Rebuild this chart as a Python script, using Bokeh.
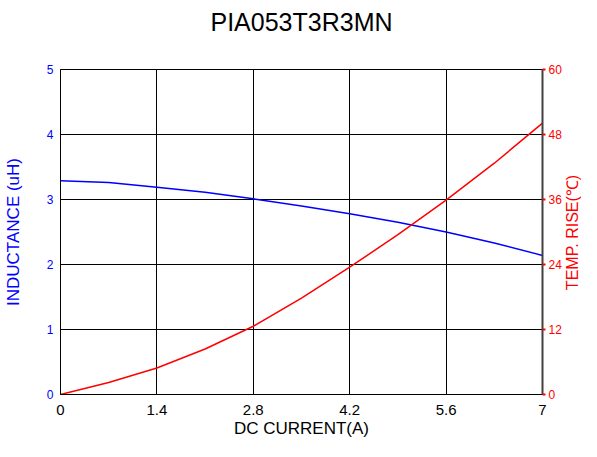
import math
from bokeh.plotting import figure
from bokeh.models import Range1d, LinearAxis, FixedTicker, Title, Label
from bokeh.embed import file_html
from bokeh.resources import INLINE

# Data
current = [0, 0.7, 1.4, 2.1, 2.8, 3.5, 4.2, 4.9, 5.6, 6.3, 7.0]
inductance = [3.29, 3.26, 3.19, 3.11, 3.01, 2.90, 2.78, 2.65, 2.50, 2.33, 2.14]
temp_rise = [0.0, 2.2, 4.9, 8.4, 12.6, 17.8, 23.5, 29.5, 35.9, 42.7, 50.1]

x_ticks = [0, 1.4, 2.8, 4.2, 5.6, 7]
x_tick_labels = ["0", "1.4", "2.8", "4.2", "5.6", "7"]
left_ticks = [0, 1, 2, 3, 4, 5]
right_ticks = [0, 12, 24, 36, 48, 60]

FONT = "Liberation Sans"
BLUE = "#0000ff"
RED = "#ff0000"

p = figure(width=581, height=441, output_backend="svg", toolbar_location=None,
           x_range=Range1d(0, 7), y_range=Range1d(0, 5),
           min_border_left=60, min_border_right=34, min_border_top=69, min_border_bottom=47)

p.title.text = "PIA053T3R3MN"
p.title.align = "center"
p.title.text_font = FONT
p.title.text_font_size = "25px"
p.title.text_font_style = "normal"
p.title.text_color = "#000000"
# spacer between the title and the frame
p.add_layout(Title(text=" ", text_font=FONT, text_font_size="15px"), "above")

p.outline_line_color = "#000000"
p.outline_line_width = 1

p.extra_y_ranges = {"temp": Range1d(0, 60)}

# x axis
xa = p.xaxis[0]
xa.ticker = FixedTicker(ticks=x_ticks)
xa.major_label_overrides = {t: l for t, l in zip(x_ticks, x_tick_labels)}
xa.axis_label = "DC CURRENT(A)"
xa.axis_label_text_font = FONT
xa.axis_label_text_font_size = "17px"
xa.axis_label_text_font_style = "normal"
xa.axis_label_text_color = "#000000"
xa.axis_label_standoff = 1
xa.major_label_text_font = FONT
xa.major_label_text_font_size = "15px"
xa.major_label_text_color = "#000000"
xa.major_label_standoff = 10
xa.major_tick_out = 0
xa.major_tick_in = 0
xa.minor_tick_out = 0
xa.minor_tick_in = 0
xa.axis_line_color = "#000000"

# left axis
ya = p.yaxis[0]
ya.ticker = FixedTicker(ticks=left_ticks)
ya.axis_label = "INDUCTANCE (uH)"
ya.axis_label_text_font = FONT
ya.axis_label_text_font_size = "17px"
ya.axis_label_text_font_style = "normal"
ya.axis_label_text_color = BLUE
ya.axis_label_standoff = 21
ya.major_label_text_font = FONT
ya.major_label_text_font_size = "12px"
ya.major_label_text_color = BLUE
ya.major_label_standoff = 7
ya.major_tick_out = 0
ya.major_tick_in = 0
ya.minor_tick_out = 0
ya.minor_tick_in = 0
ya.axis_line_color = "#000000"

# right axis (label drawn separately)
ra = LinearAxis(y_range_name="temp", ticker=FixedTicker(ticks=right_ticks))
ra.major_label_text_font = FONT
ra.major_label_text_font_size = "12px"
ra.major_label_text_color = RED
ra.major_label_standoff = 3
ra.major_tick_out = 3
ra.major_tick_in = 0
ra.major_tick_line_color = RED
ra.major_tick_line_width = 2
ra.minor_tick_out = 0
ra.minor_tick_in = 0
ra.axis_line_color = "#404040"
ra.axis_line_width = 2
p.add_layout(ra, "right")

right_label = Label(x=572, y=232, x_units="canvas", y_units="canvas",
                    text="TEMP. RISE(℃)", angle=math.pi / 2,
                    text_align="center", text_baseline="middle",
                    text_font=FONT, text_font_size="16px", text_color=RED)
p.add_layout(right_label, "right")

# grid
p.xgrid.grid_line_color = "#000000"
p.xgrid.grid_line_width = 1
p.ygrid.grid_line_color = "#000000"
p.ygrid.grid_line_width = 1

p.line(current, inductance, line_color=BLUE, line_width=1.5)
p.line(current, temp_rise, line_color=RED, line_width=1.5, y_range_name="temp")

open("out.html", "w").write(file_html(p, INLINE))
